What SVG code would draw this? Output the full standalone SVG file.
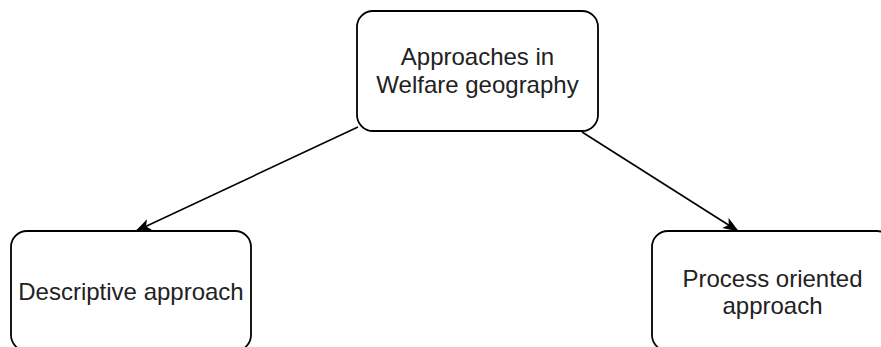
<svg xmlns="http://www.w3.org/2000/svg" width="881" height="347" viewBox="0 0 881 347">
<style>
.box{fill:#fff;stroke:#000;stroke-width:1.8}
.lbl{font-family:"Liberation Sans",Arial,sans-serif;font-size:24px;fill:#222;text-anchor:middle}
.edge{stroke:#000;stroke-width:1.6;fill:none}
</style>
<defs>
<marker id="arr" viewBox="0 0 16 12" refX="15" refY="6" markerWidth="16" markerHeight="12" markerUnits="userSpaceOnUse" orient="auto">
<path d="M0,0 L16,6 L0,12 L4,6 Z" fill="#000"/>
</marker>
</defs>
<rect width="881" height="347" fill="#fff"/>
<g id="edges">
<line class="edge" x1="358" y1="127" x2="136" y2="231" marker-end="url(#arr)"/>
<line class="edge" x1="582" y1="132" x2="738" y2="231" marker-end="url(#arr)"/>
</g>
<g id="n-top">
<rect class="box" x="357" y="11" width="241" height="120" rx="16"/>
<text class="lbl" x="477.5" y="65">Approaches in</text>
<text class="lbl" x="477.5" y="93">Welfare geography</text>
</g>
<g id="n-left">
<rect class="box" x="11" y="231" width="240" height="120" rx="16"/>
<text class="lbl" x="131" y="300">Descriptive approach</text>
</g>
<g id="n-right">
<rect class="box" x="652" y="231" width="241" height="120" rx="16"/>
<text class="lbl" x="772.5" y="287">Process oriented</text>
<text class="lbl" x="772.5" y="314">approach</text>
</g>
</svg>
